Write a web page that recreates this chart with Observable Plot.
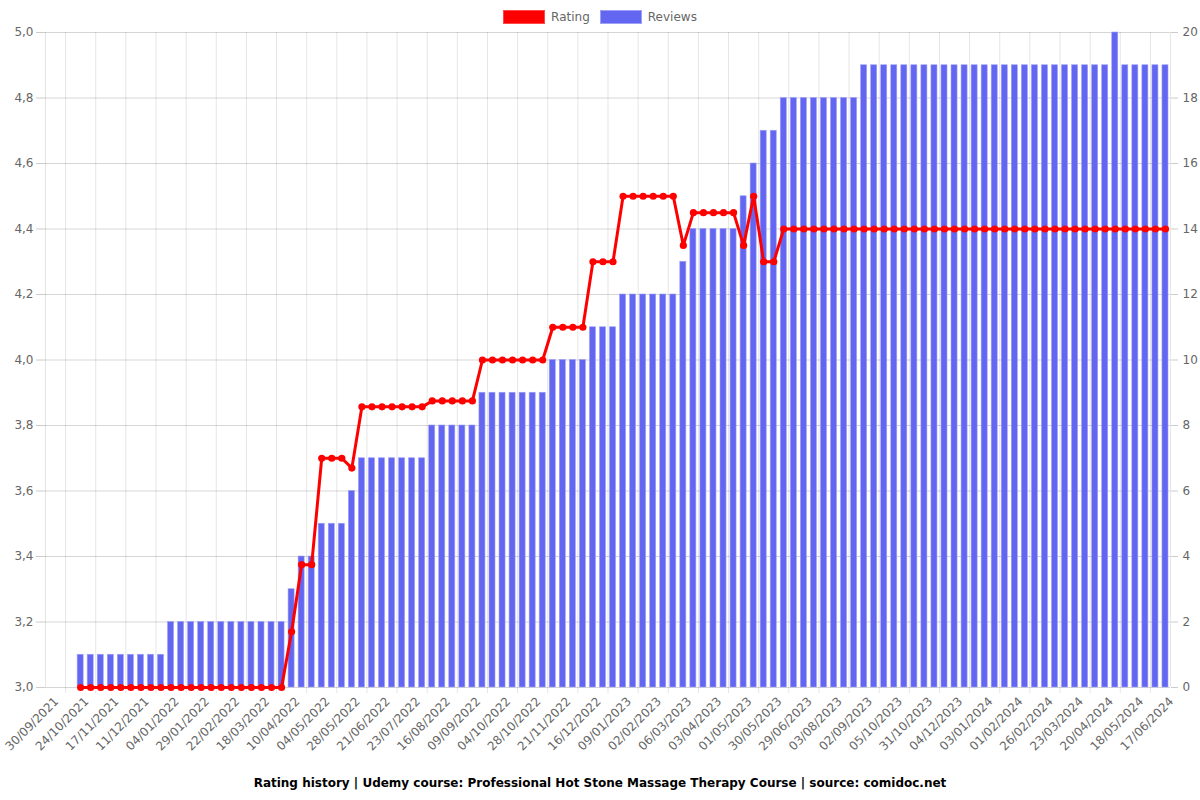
<!DOCTYPE html>
<html>
<head>
<meta charset="utf-8">
<script src="https://cdn.jsdelivr.net/npm/d3@7"></script>
<script src="https://cdn.jsdelivr.net/npm/@observablehq/plot@0.6"></script>
<style>
  body { margin: 0; background: #fff; font-family: "DejaVu Sans", sans-serif; }
  #wrap { position: relative; width: 1200px; height: 800px; overflow: hidden; }
  #chart { position: absolute; top: 0; left: 0; }
  #legend { position: absolute; top: 10px; left: 0; width: 1200px; display: flex; justify-content: center; align-items: center; font-size: 12px; color: #666; }
  .item { display: flex; align-items: center; margin: 0 5px; }
  .box { width: 40px; height: 12px; margin-right: 6px; border: 1.5px solid; }
  #caption { position: absolute; top: 774px; left: 0; width: 1200px; text-align: center; font-weight: bold; font-size: 12px; line-height: 18px; color: #000; }
</style>
</head>
<body>
<div id="wrap">
  <div id="chart"></div>
  <div id="legend"></div>
  <div id="caption"></div>
</div>
<script>
const tickLabels = [
  "30/09/2021","24/10/2021","17/11/2021","11/12/2021","04/01/2022","29/01/2022","22/02/2022","18/03/2022",
  "10/04/2022","04/05/2022","28/05/2022","21/06/2022","23/07/2022","16/08/2022","09/09/2022","04/10/2022",
  "28/10/2022","21/11/2022","16/12/2022","09/01/2023","02/02/2023","06/03/2023","03/04/2023","01/05/2023",
  "30/05/2023","29/06/2023","03/08/2023","02/09/2023","05/10/2023","31/10/2023","04/12/2023","03/01/2024",
  "01/02/2024","26/02/2024","23/03/2024","20/04/2024","18/05/2024","17/06/2024"
];

const reviews = [
  0,0,0,
  1,1,1,1,1,1,1,1,1,
  2,2,2,2,2,2,2,2,2,2,2,2,
  3,
  4,4,
  5,5,5,
  6,
  7,7,7,7,7,7,7,
  8,8,8,8,8,
  9,9,9,9,9,9,9,
  10,10,10,10,
  11,11,11,
  12,12,12,12,12,12,
  13,
  14,14,14,14,14,
  15,
  16,
  17,17,
  18,18,18,18,18,18,18,18,
  19,19,19,19,19,19,19,19,19,19,19,19,19,19,19,19,19,19,19,19,19,19,19,19,19,
  20,
  19,19,19,19,19
];

const rating = [
  null,null,null,
  3,3,3,3,3,3,3,3,3,3,3,3,3,3,3,3,3,3,3,3,3,
  3.17,
  3.375,3.375,
  3.7,3.7,3.7,
  3.67,
  3.857,3.857,3.857,3.857,3.857,3.857,3.857,
  3.875,3.875,3.875,3.875,3.875,
  4,4,4,4,4,4,4,
  4.1,4.1,4.1,4.1,
  4.3,4.3,4.3,
  4.5,4.5,4.5,4.5,4.5,4.5,
  4.35,
  4.45,4.45,4.45,4.45,4.45,
  4.35,
  4.5,
  4.3,4.3,
  4.4,4.4,4.4,4.4,4.4,4.4,4.4,4.4,4.4,4.4,4.4,4.4,4.4,4.4,4.4,4.4,4.4,4.4,4.4,4.4,
  4.4,4.4,4.4,4.4,4.4,4.4,4.4,4.4,4.4,4.4,4.4,4.4,4.4,4.4,4.4,4.4,4.4,4.4,4.4
];

const reviewTicks = [0,2,4,6,8,10,12,14,16,18,20];
const ratingMin = 3, ratingMax = 5, reviewMax = 20;
const seriesNames = ["Rating", "Reviews"];
const seriesColors = ["#ff0000", "#6366f1"];
const seriesBorders = ["rgba(255,80,80,0.9)", "#9ea0f6"];
const captionText = "Rating history | Udemy course: Professional Hot Stone Massage Therapy Course | source: comidoc.net";

const idx = d3.range(reviews.length);
const rated = idx.filter(i => rating[i] != null);
const toY = r => (r - ratingMin) / (ratingMax - ratingMin) * reviewMax;
const tickIdx = d3.range(0, idx.length, 3);
const gridIdx = tickIdx.slice(0, -1).map(i => i + 1);

const W = 1200, ML = 45, MR = 30;
const step = (W - ML - MR) / idx.length;

const chart = Plot.plot({
  width: W,
  height: 770,
  marginTop: 32,
  marginBottom: 83,
  marginLeft: ML,
  marginRight: MR,
  style: { fontFamily: "DejaVu Sans", fontSize: "12px", background: "transparent", overflow: "visible" },
  x: { type: "band", domain: idx, paddingInner: 0.4, paddingOuter: 0.2, round: false, axis: null },
  y: { domain: [0, reviewMax], axis: null },
  marks: [
    Plot.ruleY(reviewTicks, { stroke: "#000", strokeOpacity: 0.16 }),
    Plot.ruleX(gridIdx, { x: d => d, dx: step / 2, stroke: "#000", strokeOpacity: 0.1, insetBottom: -6 }),
    Plot.ruleX([0], { x: d => d, dx: -step / 2, stroke: "#000", strokeOpacity: 0.1 }),
    Plot.ruleX([idx.length - 1], { x: d => d, dx: step / 2, stroke: "#000", strokeOpacity: 0.1 }),
    Plot.barY(idx, { x: d => d, y: d => reviews[d], fill: seriesColors[1], stroke: seriesBorders[1], strokeWidth: 0.6 }),
    Plot.line(rated, { x: d => d, y: d => toY(rating[d]), stroke: seriesColors[0], strokeWidth: 3 }),
    Plot.dot(rated, { x: d => d, y: d => toY(rating[d]), r: 3.6, fill: seriesColors[0], stroke: null }),
    Plot.axisY(reviewTicks, {
      anchor: "left",
      tickFormat: d => (ratingMin + d / reviewMax * (ratingMax - ratingMin)).toFixed(1).replace(".", ","),
      tickSize: 9, tickPadding: 3, stroke: "#ccc", fill: "#666"
    }),
    Plot.axisY(reviewTicks, {
      anchor: "right",
      tickFormat: d => String(d),
      tickSize: 7, tickPadding: 5, stroke: "#ccc", fill: "#666"
    }),
    Plot.axisX(tickIdx, {
      tickFormat: d => tickLabels[d / 3],
      tickRotate: -45, tickSize: 0, tickPadding: 8, dx: 6, dy: 4, fill: "#666"
    })
  ]
});
document.getElementById("chart").appendChild(chart);

const legend = document.getElementById("legend");
seriesNames.forEach((name, k) => {
  const item = document.createElement("div");
  item.className = "item";
  const box = document.createElement("div");
  box.className = "box";
  box.style.background = seriesColors[k];
  box.style.borderColor = seriesBorders[k];
  const label = document.createElement("span");
  label.textContent = name;
  item.appendChild(box);
  item.appendChild(label);
  legend.appendChild(item);
});
document.getElementById("caption").textContent = captionText;
</script>
</body>
</html>
